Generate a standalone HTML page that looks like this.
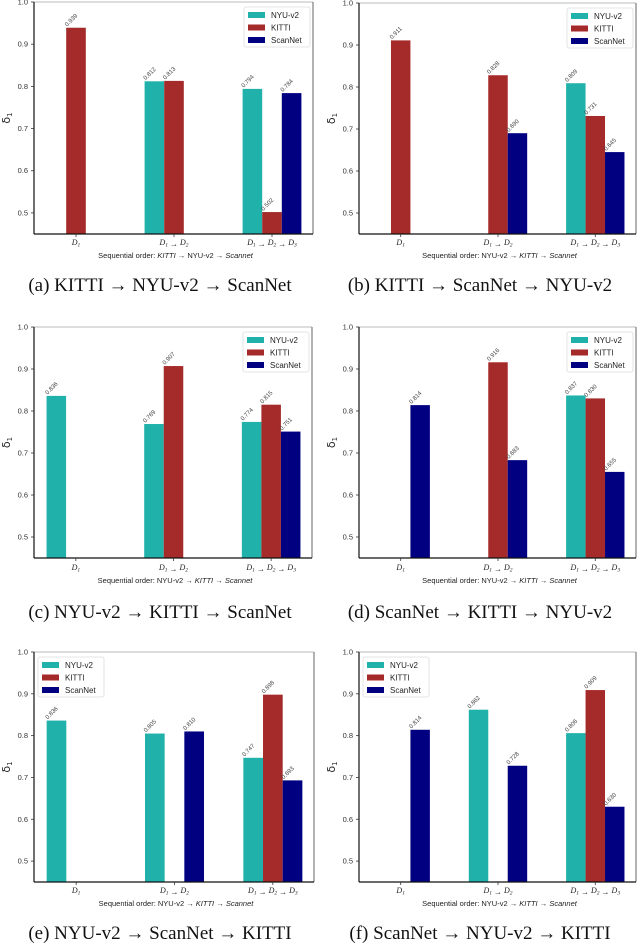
<!DOCTYPE html>
<html><head><meta charset="utf-8"><style>
html,body{margin:0;padding:0;background:#fff;}
svg{display:block;}
</style></head><body>
<svg id="fig" width="640" height="946" viewBox="0 0 640 946" xmlns="http://www.w3.org/2000/svg"></svg>
<script>
// Data (delta_1 values per series, null = missing)
const categories = ["D1", "D1→D2", "D1→D2→D3"];
const seriesNames = ["NYU-v2", "KITTI", "ScanNet"];
const nyuA = [null, 0.812, 0.794];
const kittiA = [0.939, 0.813, 0.502];
const scanA = [null, null, 0.784];
const nyuB = [null, null, 0.809];
const kittiB = [0.911, 0.828, 0.731];
const scanB = [null, 0.690, 0.645];
const nyuC = [0.836, 0.769, 0.774];
const kittiC = [null, 0.907, 0.815];
const scanC = [null, null, 0.751];
const nyuD = [null, null, 0.837];
const kittiD = [null, 0.916, 0.830];
const scanD = [0.814, 0.683, 0.655];
const nyuE = [0.836, 0.805, 0.747];
const kittiE = [null, null, 0.898];
const scanE = [null, 0.810, 0.693];
const nyuF = [null, 0.862, 0.806];
const kittiF = [null, null, 0.909];
const scanF = [0.814, 0.728, 0.630];
const yTicks = [0.5, 0.6, 0.7, 0.8, 0.9, 1.0];
const captions = ["(a)  KITTI → NYU-v2 → ScanNet","(b)  KITTI → ScanNet → NYU-v2","(c)  NYU-v2 → KITTI → ScanNet","(d)  ScanNet → KITTI → NYU-v2","(e)  NYU-v2 → ScanNet → KITTI","(f)  ScanNet → NYU-v2 → KITTI"];

const colors = ["#20b2aa", "#a52a2a", "#000080"];
const NS = "http://www.w3.org/2000/svg";
const fig = document.getElementById('fig');
function mk(tag, attrs, parent, text){
  const e = document.createElementNS(NS, tag);
  for (const k in attrs) e.setAttribute(k, attrs[k]);
  if (text !== undefined) e.textContent = text;
  (parent||fig).appendChild(e);
  return e;
}
const panels = [
  {id:"a", s:[nyuA,kittiA,scanA], L:34, R:313, T:2, B:234, leg:"r", tl:245, xl:258, cap:291, cx:160, alt:true},
  {id:"b", s:[nyuB,kittiB,scanB], L:359, R:636, T:3, B:234, leg:"r", tl:245, xl:258, cap:291, cx:480},
  {id:"c", s:[nyuC,kittiC,scanC], L:34, R:312, T:327, B:558, leg:"r", tl:570, xl:583, cap:618, cx:160},
  {id:"d", s:[nyuD,kittiD,scanD], L:359, R:636, T:327, B:558, leg:"r", tl:570, xl:583, cap:618, cx:480},
  {id:"e", s:[nyuE,kittiE,scanE], L:34, R:314, T:652, B:882, leg:"l", tl:893, xl:906, cap:939, cx:160},
  {id:"f", s:[nyuF,kittiF,scanF], L:359, R:636, T:652, B:882, leg:"l", tl:893, xl:906, cap:939, cx:480}
];
const tickText = [["D","1"],["D","1"," → ","D","2"],["D","1"," → ","D","2"," → ","D","3"]];

panels.forEach(p => {
  const g = mk('g', {});
  
  
  const yS = v => p.T + (1.0 - v) / 0.55 * (p.B - p.T);
  const unit = 98 * (p.R - p.L) / 279;
  const xS = i => p.L + 42 * (p.R - p.L) / 279 + i * unit;
  const bw = unit * 0.2;
  // bars
  p.s.forEach((arr, si) => {
    arr.forEach((v, ci) => {
      if (v === null) return;
      const x = xS(ci) + (si - 1) * bw - bw/2;
      const r = mk('rect', {x:x, y:yS(v), width:bw, height:p.B - yS(v), fill:colors[si]}, g);
      
      
      const t = mk('text', {x:x+1, y:yS(v)-1, 'font-size':6, fill:'#444', 'font-family':'Liberation Sans, sans-serif', transform:`rotate(-45 ${x+1} ${yS(v)-1})`}, g, v.toFixed(3));
      
      
    });
  });
  // axes
  mk('line', {x1:p.L, y1:p.T, x2:p.R, y2:p.T, stroke:'#bbb', 'stroke-width':1}, g);
  mk('line', {x1:p.R, y1:p.T, x2:p.R, y2:p.B, stroke:'#666', 'stroke-width':1}, g);
  const ax = mk('line', {x1:p.L, y1:p.T, x2:p.L, y2:p.B, stroke:'#111', 'stroke-width':1.2}, g);
  
  
  const bx = mk('line', {x1:p.L, y1:p.B, x2:p.R, y2:p.B, stroke:'#111', 'stroke-width':1.2}, g);
  
  
  yTicks.forEach(tv => {
    const y = yS(tv);
    mk('line', {x1:p.L-3, y1:y, x2:p.L, y2:y, stroke:'#333', 'stroke-width':0.8}, g);
    const t = mk('text', {x:p.L-6, y:y+2.5, 'font-size':7.5, 'text-anchor':'end', fill:'#333', 'font-family':'Liberation Sans, sans-serif'}, g, tv.toFixed(1));
    
    
  });
  categories.forEach((c, ci) => {
    const x = xS(ci);
    mk('line', {x1:x, y1:p.B, x2:x, y2:p.B+3, stroke:'#333', 'stroke-width':0.8}, g);
    const t = mk('text', {x:x, y:p.tl, 'font-size':8, 'text-anchor':'middle', fill:'#222', 'font-family':'Liberation Serif, serif', 'font-style':'italic'}, g);
    
    
    tickText[ci].forEach(part => {
      if (/^\d$/.test(part)) mk('tspan', {'font-size':5.5, dy:1.5}, t, part);
      else if (part === "D") mk('tspan', {dy: t.childNodes.length ? -1.5 : 0}, t, part);
      else mk('tspan', {'font-style':'normal'}, t, part);
    });
  });
  // y title
  const yc = (p.T + p.B)/2, yx = p.L - 24;
  const yt = mk('text', {x:yx, y:yc, 'font-size':11, 'text-anchor':'middle', fill:'#222', 'font-family':'DejaVu Sans, sans-serif', transform:`rotate(-90 ${yx} ${yc})`}, g);
  
  
  mk('tspan', {}, yt, 'δ');
  mk('tspan', {'font-size':7, dy:2}, yt, '1');
  // x label
  const xlx = (p.L + p.R)/2 + 2;
  const xl = mk('text', {x:xlx, y:p.xl, 'font-size':7.5, 'text-anchor':'middle', fill:'#222', 'font-family':'Liberation Sans, sans-serif'}, g);
  
  
  if (p.alt) {
    mk('tspan', {}, xl, 'Sequential order: ');
    mk('tspan', {'font-style':'italic'}, xl, 'KITTI');
    mk('tspan', {}, xl, ' → NYU-v2 → ');
    mk('tspan', {'font-style':'italic'}, xl, 'Scannet');
  } else {
    mk('tspan', {}, xl, 'Sequential order:  NYU-v2   → ');
    mk('tspan', {'font-style':'italic'}, xl, 'KITTI');
    mk('tspan', {}, xl, ' → ');
    mk('tspan', {'font-style':'italic'}, xl, 'Scannet');
  }
  // legend
  const lw = 66, lh = 40;
  const lx = p.leg === "r" ? p.R - lw - 3 : p.L + 4;
  const ly = p.T + 5;
  const lg = mk('g', {}, g);
  
  
  mk('rect', {x:lx, y:ly, width:lw, height:lh, fill:'#fff', stroke:'#ddd', 'stroke-width':0.8, rx:2}, lg);
  seriesNames.forEach((n, i) => {
    const ey = ly + 5 + i * 12.5;
    const e = mk('g', {}, lg);
    
    
    mk('rect', {x:lx+4, y:ey, width:17, height:6, fill:colors[i]}, e);
    mk('text', {x:lx+27, y:ey+6, 'font-size':8, fill:'#222', 'font-family':'Liberation Sans, sans-serif'}, e, n);
  });
  // caption
  const cap = mk('text', {x:p.cx, y:p.cap, 'font-size':19, 'text-anchor':'middle', fill:'#111', 'font-family':'Liberation Serif, serif'}, g, captions["abcdef".indexOf(p.id)]);
  
  
});
</script>
</body></html>
